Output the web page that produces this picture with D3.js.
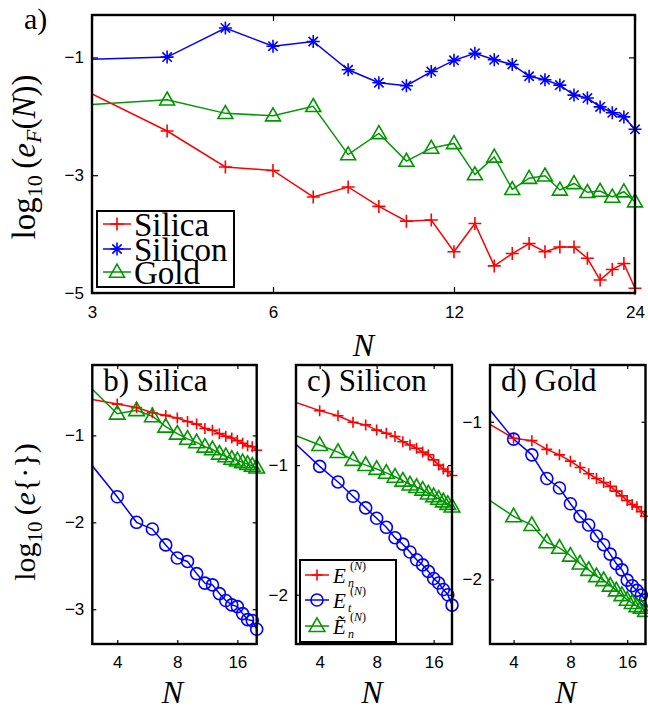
<!DOCTYPE html>
<html><head><meta charset="utf-8">
<script src="https://cdn.jsdelivr.net/npm/d3@7"></script>
<style>body{margin:0;background:#fff}</style>
</head><body>
<svg id="c" width="648" height="711" xmlns="http://www.w3.org/2000/svg"></svg>
<script>
// ---------- data ----------
const topN = [3,4,5,6,7,8,9,10,11,12,13,14,15,16,17,18,19,20,21,22,23,24];
const topSilica  = [-1.62,-2.25,-2.86,-2.92,-3.37,-3.20,-3.53,-3.78,-3.76,-4.30,-3.82,-4.54,-4.33,-4.16,-4.30,-4.22,-4.22,-4.41,-4.78,-4.60,-4.50,-4.92];
const topSilicon = [-1.03,-0.995,-0.50,-0.81,-0.73,-1.21,-1.43,-1.48,-1.24,-1.05,-0.93,-1.04,-1.12,-1.32,-1.38,-1.47,-1.64,-1.69,-1.84,-1.94,-2.01,-2.22];
const topGold    = [-1.80,-1.72,-1.95,-1.99,-1.83,-2.65,-2.29,-2.76,-2.54,-2.46,-2.99,-2.69,-3.24,-3.05,-3.01,-3.25,-3.14,-3.29,-3.27,-3.37,-3.28,-3.45];
const topXTicks = [3,6,12,24];
const topYTicks = [-1,-3,-5];
const topLegend = ["Silica","Silicon","Gold"];

const botN = [3,4,5,6,7,8,9,10,11,12,13,14,15,16,17,18,19,20];
const silicaEn  = [-0.586,-0.64,-0.68,-0.74,-0.77,-0.80,-0.84,-0.87,-0.92,-0.94,-0.98,-1.01,-1.03,-1.06,-1.09,-1.12,-1.13,-1.17];
const silicaEt  = [-1.35,-1.706,-2.00,-2.077,-2.26,-2.41,-2.45,-2.59,-2.70,-2.72,-2.82,-2.90,-2.95,-2.97,-3.05,-3.12,-3.13,-3.23];
const silicaEnT = [-0.47,-0.75,-0.71,-0.78,-0.90,-0.98,-1.04,-1.08,-1.13,-1.16,-1.21,-1.24,-1.27,-1.29,-1.31,-1.33,-1.35,-1.37];
const siliconEn  = [-0.516,-0.58,-0.62,-0.67,-0.69,-0.73,-0.755,-0.78,-0.82,-0.845,-0.87,-0.90,-0.92,-0.96,-1.00,-1.03,-1.05,-1.08];
const siliconEt  = [-0.84,-1.01,-1.13,-1.24,-1.33,-1.41,-1.48,-1.56,-1.61,-1.67,-1.73,-1.77,-1.82,-1.875,-1.91,-1.96,-2.00,-2.08];
const siliconEnT = [-0.774,-0.845,-0.90,-0.96,-1.00,-1.03,-1.06,-1.09,-1.12,-1.15,-1.17,-1.19,-1.22,-1.24,-1.26,-1.28,-1.30,-1.32];
const goldEn  = [-1.017,-1.105,-1.12,-1.175,-1.21,-1.25,-1.29,-1.33,-1.36,-1.385,-1.41,-1.44,-1.47,-1.50,-1.525,-1.54,-1.57,-1.60];
const goldEt  = [-0.926,-1.11,-1.21,-1.36,-1.42,-1.52,-1.60,-1.655,-1.725,-1.78,-1.84,-1.90,-1.94,-2.005,-2.04,-2.07,-2.10,-2.13];
const goldEnT = [-1.50,-1.60,-1.655,-1.765,-1.80,-1.85,-1.90,-1.94,-1.98,-2.005,-2.04,-2.07,-2.10,-2.13,-2.15,-2.17,-2.18,-2.20];
const botXTicks = [4,8,16];
const panelTitles = ["b) Silica","c) Silicon","d) Gold"];

// ---------- drawing ----------
const RED = "#ff0000", BLUE = "#0000ff", GREEN = "#009600";
const SERIF = "'Liberation Serif','Times New Roman',serif";
const SANS = "'Liberation Sans',Arial,sans-serif";
const svg = d3.select("#c");
let clipId = 0;

function markerPath(type, s) {
  if (type === "+") return `M${-s},0H${s}M0,${-s}V${s}`;
  if (type === "*") { const d = s*0.72; return `M${-s},0H${s}M0,${-s}V${s}M${-d},${-d}L${d},${d}M${-d},${d}L${d},${-d}`; }
  if (type === "^") { const w = s*1.15, h = s*2; return `M0,${-h*0.6}L${w},${h*0.4}L${-w},${h*0.4}Z`; }
  return "";
}
function drawMarker(g, type, color, s, cx, cy) {
  if (type === "o") {
    g.append("circle").attr("cx", cx).attr("cy", cy).attr("r", s)
      .attr("fill","none").attr("stroke", color).attr("stroke-width", 1.6);
  } else {
    g.append("path").attr("d", markerPath(type, s)).attr("transform", `translate(${cx},${cy})`)
      .attr("fill","none").attr("stroke", color).attr("stroke-width", 1.6);
  }
}

function panel(cfg) {
  const g = svg.append("g");
  const x = d3.scaleLog().base(2).domain(cfg.xdom).range([cfg.x0, cfg.x1]);
  const y = d3.scaleLinear().domain(cfg.ydom).range([cfg.yb, cfg.yt]);
  const id = "clip" + (clipId++);
  svg.append("clipPath").attr("id", id).append("rect")
    .attr("x", cfg.x0).attr("y", cfg.yt).attr("width", cfg.x1 - cfg.x0).attr("height", cfg.yb - cfg.yt);
  const tl = cfg.tickLen;
  const fmt = d => (d < 0 ? "\u2212" + Math.abs(d) : String(d));
  const ax = [
    g.append("g").attr("transform", `translate(0,${cfg.yb})`).call(d3.axisBottom(x).tickValues(cfg.xticks).tickSize(-tl).tickPadding(cfg.xpad).tickFormat(fmt)),
    g.append("g").attr("transform", `translate(0,${cfg.yt})`).call(d3.axisTop(x).tickValues(cfg.xticks).tickSize(-tl).tickFormat("")),
    g.append("g").attr("transform", `translate(${cfg.x0},0)`).call(d3.axisLeft(y).tickValues(cfg.yticks).tickSize(-tl).tickPadding(8).tickFormat(fmt)),
    g.append("g").attr("transform", `translate(${cfg.x1},0)`).call(d3.axisRight(y).tickValues(cfg.yticks).tickSize(-tl).tickFormat(""))
  ];
  ax.forEach(a => {
    a.select(".domain").remove();
    a.selectAll("line").attr("stroke", "#000").attr("stroke-width", 1.2);
    a.selectAll("text").attr("font-family", SANS).attr("font-size", 17).attr("fill", "#000");
  });
  const line = d3.line().x((d,i) => x(cfg.n[i])).y(d => y(d));
  cfg.series.forEach(s => {
    g.append("path").datum(s.v).attr("d", line).attr("fill","none")
      .attr("stroke", s.color).attr("stroke-width", 1.5).attr("clip-path", `url(#${id})`);
  });
  cfg.series.forEach(s => {
    const mg = g.append("g");
    s.v.forEach((v,i) => { if (i > 0) drawMarker(mg, s.type, s.color, s.size, x(cfg.n[i]), y(v)); });
  });
  g.append("rect").attr("x", cfg.x0).attr("y", cfg.yt).attr("width", cfg.x1 - cfg.x0).attr("height", cfg.yb - cfg.yt)
    .attr("fill","none").attr("stroke","#000").attr("stroke-width", 2.4);
  return {g, x, y};
}

// ---------- panel a ----------
panel({
  x0: 92, x1: 635, yt: 15, yb: 293, xdom: [3,24], ydom: [-5,-0.28],
  xticks: topXTicks, yticks: topYTicks, tickLen: 6, xpad: 13, n: topN,
  series: [
    {v: topSilica, color: RED, type: "+", size: 6.5},
    {v: topSilicon, color: BLUE, type: "*", size: 6.5},
    {v: topGold, color: GREEN, type: "^", size: 6.5}
  ]
});
{
  const lg = svg.append("g");
  lg.append("rect").attr("x", 97).attr("y", 211).attr("width", 137).attr("height", 76)
    .attr("fill","#fff").attr("stroke","#000").attr("stroke-width", 2);
  const rows = [224, 249, 272];
  const cols = [RED, BLUE, GREEN], types = ["+","*","^"];
  topLegend.forEach((t,i) => {
    lg.append("line").attr("x1",103).attr("x2",131).attr("y1",rows[i]).attr("y2",rows[i])
      .attr("stroke", cols[i]).attr("stroke-width",1.5);
    drawMarker(lg, types[i], cols[i], 6.5, 117, rows[i]);
    lg.append("text").attr("x",134).attr("y",rows[i]+12).attr("font-family",SERIF)
      .attr("font-size",33).text(t);
  });
}
svg.append("text").attr("x",24).attr("y",29).attr("font-family",SERIF).attr("font-size",30).text("a)");
{
  const t = svg.append("text").attr("transform","translate(35,157) rotate(-90)")
    .attr("text-anchor","middle").attr("font-family",SERIF).attr("font-size",33);
  t.append("tspan").text("log");
  t.append("tspan").attr("font-size",22).attr("dy",7).text("10");
  t.append("tspan").attr("dy",-7).text("\u2009(");
  t.append("tspan").attr("font-style","italic").text("e");
  t.append("tspan").attr("font-style","italic").attr("font-size",22).attr("dy",6).text("F");
  t.append("tspan").attr("dy",-6).text("(");
  t.append("tspan").attr("font-style","italic").text("N");
  t.append("tspan").text("))");
}
svg.append("text").attr("x",363.5).attr("y",356).attr("text-anchor","middle")
  .attr("font-family",SERIF).attr("font-style","italic").attr("font-size",32).text("N");

// ---------- bottom panels ----------
const bcfg = [
  {x0: 92.3, x1: 256.7, ydom: [-3.40,-0.19], yticks: [-1,-2,-3], data: [silicaEn, silicaEt, silicaEnT]},
  {x0: 296, x1: 452, ydom: [-2.38,-0.228], yticks: [-1,-2], data: [siliconEn, siliconEt, siliconEnT]},
  {x0: 490, x1: 645.5, ydom: [-2.41,-0.64], yticks: [-1,-2], data: [goldEn, goldEt, goldEnT]}
];
bcfg.forEach((c, k) => {
  panel({
    x0: c.x0, x1: c.x1, yt: 365, yb: 644, xdom: [3,20], ydom: c.ydom,
    xticks: botXTicks, yticks: c.yticks, tickLen: 4, xpad: 12, n: botN,
    series: [
      {v: c.data[0], color: RED, type: "+", size: 5.5},
      {v: c.data[1], color: BLUE, type: "o", size: 6},
      {v: c.data[2], color: GREEN, type: "^", size: 6.8}
    ]
  });
  svg.append("text").attr("x", c.x0 + 11).attr("y", 391).attr("font-family",SERIF)
    .attr("font-size",31).text(panelTitles[k]);
  svg.append("text").attr("x", (c.x0 + c.x1)/2 - 2).attr("y", 703).attr("text-anchor","middle")
    .attr("font-family",SERIF).attr("font-style","italic").attr("font-size",32).text("N");
});
{
  const t = svg.append("text").attr("transform","translate(35,512) rotate(-90)")
    .attr("text-anchor","middle").attr("font-family",SERIF).attr("font-size",30);
  t.append("tspan").text("log");
  t.append("tspan").attr("font-size",21).attr("dy",7).text("10");
  t.append("tspan").attr("dy",-7).text("\u2009(");
  t.append("tspan").attr("font-style","italic").text("e");
  t.append("tspan").text("{\u00b7})");
}
{
  const lg = svg.append("g");
  lg.append("rect").attr("x", 300).attr("y", 560).attr("width", 96).attr("height", 82)
    .attr("fill","#fff").attr("stroke","#000").attr("stroke-width", 2);
  const rows = [575, 600, 626];
  const cols = [RED, BLUE, GREEN], types = ["+","o","^"], sizes = [5.5,6,6.8];
  const bases = ["E","E","\u1EBC"], subs = ["n","t","n"];
  rows.forEach((r,i) => {
    lg.append("line").attr("x1",305).attr("x2",329).attr("y1",r).attr("y2",r)
      .attr("stroke", cols[i]).attr("stroke-width",1.5);
    drawMarker(lg, types[i], cols[i], sizes[i], 317, r);
    lg.append("text").attr("x",333).attr("y",r+8).attr("font-family",SERIF)
      .attr("font-style","italic").attr("font-size",21).text(bases[i]);
    lg.append("text").attr("x",348).attr("y",r+12).attr("font-family",SERIF)
      .attr("font-style","italic").attr("font-size",12).text(subs[i]);
    const sup = lg.append("text").attr("x",350).attr("y",r-5).attr("font-family",SERIF).attr("font-size",12);
    sup.append("tspan").text("(");
    sup.append("tspan").attr("font-style","italic").text("N");
    sup.append("tspan").text(")");
  });
}
</script>
</body></html>
